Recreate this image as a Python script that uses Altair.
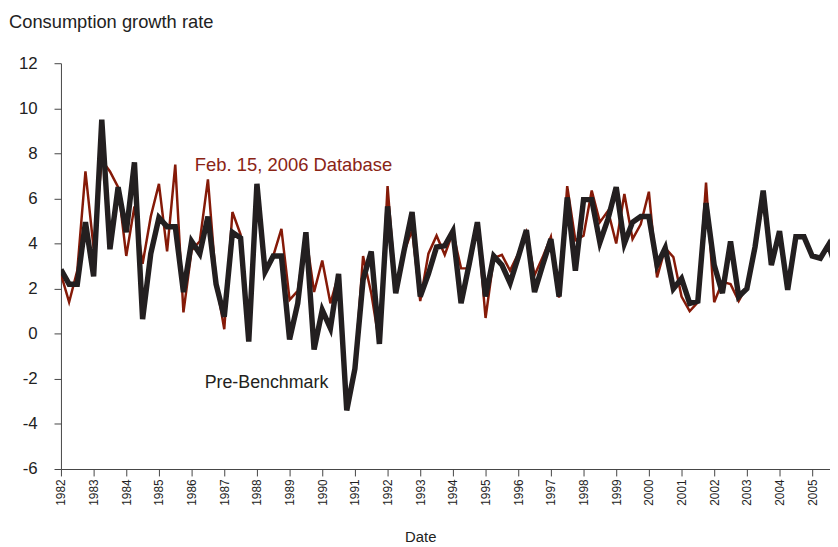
import altair as alt
import pandas as pd

# Quarterly consumption growth rate, 1982Q1 onwards
start_year = 1982
pre_benchmark = [
    2.85, 2.2, 2.2, 4.95, 2.55, 9.5, 3.75, 6.5, 4.5, 7.6,
    0.65, 3.55, 5.15, 4.75, 4.75, 1.85, 4.1, 3.55, 5.2, 2.2,
    0.75, 4.5, 4.25, -0.35, 6.65, 2.75, 3.45, 3.45, -0.25, 1.35,
    4.5, -0.7, 1.05, 0.25, 2.65, -3.4, -1.55, 2.4, 3.65, -0.45,
    5.65, 1.8, 3.65, 5.4, 1.65, 2.65, 3.85, 3.9, 4.55, 1.35,
    3.1, 4.95, 1.65, 3.45, 3.05, 2.25, 3.4, 4.6, 1.85, 3.05,
    4.2, 1.65, 6.05, 2.8, 5.95, 5.95, 4.05, 5.1, 6.5, 4.0,
    4.95, 5.2, 5.2, 3.05, 3.8, 2.0, 2.45, 1.35, 1.45, 5.8,
    3.05, 1.8, 4.1, 1.65, 2.0, 3.85, 6.35, 3.05, 4.55, 1.95,
    4.3, 4.3, 3.45, 3.35, 3.95, 2.8,
]
feb_2006 = [
    2.65, 1.4, 2.8, 7.2, 3.8, 7.7, 7.2, 6.5, 3.45, 5.65,
    3.1, 5.2, 6.65, 3.65, 7.5, 0.95, 3.7, 4.1, 6.85, 2.3,
    0.2, 5.4, 4.4, -0.3, 6.6, 2.75, 3.45, 4.65, 1.5, 1.9,
    4.4, 1.85, 3.25, 1.35, 2.65, -3.35, -1.5, 3.45, 1.8, -0.45,
    6.55, 1.9, 3.6, 4.6, 1.45, 3.55, 4.35, 3.5, 4.5, 2.9,
    2.9, 4.9, 0.7, 3.35, 3.5, 2.8, 3.55, 4.5, 2.6, 3.4,
    4.3, 1.6, 6.55, 4.15, 4.35, 6.35, 4.95, 5.45, 4.0, 6.2,
    4.2, 4.85, 6.3, 2.5, 3.8, 3.4, 1.65, 1.0, 1.4, 6.7,
    1.4, 2.3, 2.2, 1.45, 2.1, 3.8, 5.9, 3.05, 4.55, 1.95,
    4.3, 4.3, 3.45, 3.35, 3.95, 2.8,
]
year_ticks = list(range(1982, 2006))
y_ticks = list(range(-6, 13, 2))

label_text = ["Feb. 15, 2006 Database", "Pre-Benchmark"]
label_x = [1986.1, 1986.4]
label_y = [7.21, -2.42]

dates = [start_year + i / 4 for i in range(len(pre_benchmark))]
df_pre = pd.DataFrame({"date": dates, "value": pre_benchmark})
df_feb = pd.DataFrame({"date": dates, "value": feb_2006})
df_lab_feb = pd.DataFrame({"date": [label_x[0]], "value": [label_y[0]], "text": [label_text[0]]})
df_lab_pre = pd.DataFrame({"date": [label_x[1]], "value": [label_y[1]], "text": [label_text[1]]})

RED = "#851A08"
BLACK = "#231F20"
FONT = "Liberation Sans"

plot_w = 777
px_per_year = 33.0
x_scale = alt.Scale(domain=[1982, 1982 + plot_w / px_per_year], nice=False, zero=False)
y_scale = alt.Scale(domain=[-6, 12], nice=False, zero=False)

x_axis = alt.Axis(
    values=year_ticks, labelExpr="'' + datum.value", labelAngle=-90, labelFontSize=12,
    labelPadding=3, tickSize=7, labelOverlap=False, labelFlush=False, labelSeparation=0,
    title="Date", titleFontSize=15,
    titleFontWeight="normal", titleX=363, titleY=73, titleAlign="center",
    titleBaseline="alphabetic", grid=False, domainColor="#444",
    tickColor="#444", labelColor="#222", titleColor="#222",
    labelFont=FONT, titleFont=FONT,
)
y_axis = alt.Axis(
    values=y_ticks, labelFontSize=17, labelPadding=17, tickSize=7,
    labelExpr="'' + datum.value", labelOverlap=False, labelFlush=False,
    title="Consumption growth rate", titleFontSize=18.5, titleFontWeight="normal",
    titleAngle=0, titleAlign="left", titleBaseline="alphabetic",
    titleX=-53, titleY=-36, grid=False, domainColor="#444",
    tickColor="#444", labelColor="#222", titleColor="#222",
    labelFont=FONT, titleFont=FONT,
)
x_enc = alt.X("date:Q", scale=x_scale, axis=x_axis)
y_enc = alt.Y("value:Q", scale=y_scale, axis=y_axis)

feb_line = alt.Chart(df_feb).mark_line(color=RED, strokeWidth=2.5, clip=True).encode(x=x_enc, y=y_enc)
pre_line = alt.Chart(df_pre).mark_line(color=BLACK, strokeWidth=5.5, clip=True).encode(x=x_enc, y=y_enc)
feb_text = alt.Chart(df_lab_feb).mark_text(
    align="left", baseline="alphabetic", fontSize=18.6, font=FONT, color="#8A2415"
).encode(x=x_enc, y=y_enc, text="text:N")
pre_text = alt.Chart(df_lab_pre).mark_text(
    align="left", baseline="alphabetic", fontSize=18, font=FONT, color=BLACK
).encode(x=x_enc, y=y_enc, text="text:N")

chart = alt.layer(feb_line, pre_line, feb_text, pre_text).properties(
    width=plot_w,
    height=410,
    autosize=alt.AutoSizeParams(type="none"),
    padding={"left": 53.5, "top": 53, "right": 0, "bottom": 76},
).configure_view(stroke=None).configure_axisX(labelOverlap=False)

chart.save("out.html", embed_options={"renderer": "svg", "actions": False})
